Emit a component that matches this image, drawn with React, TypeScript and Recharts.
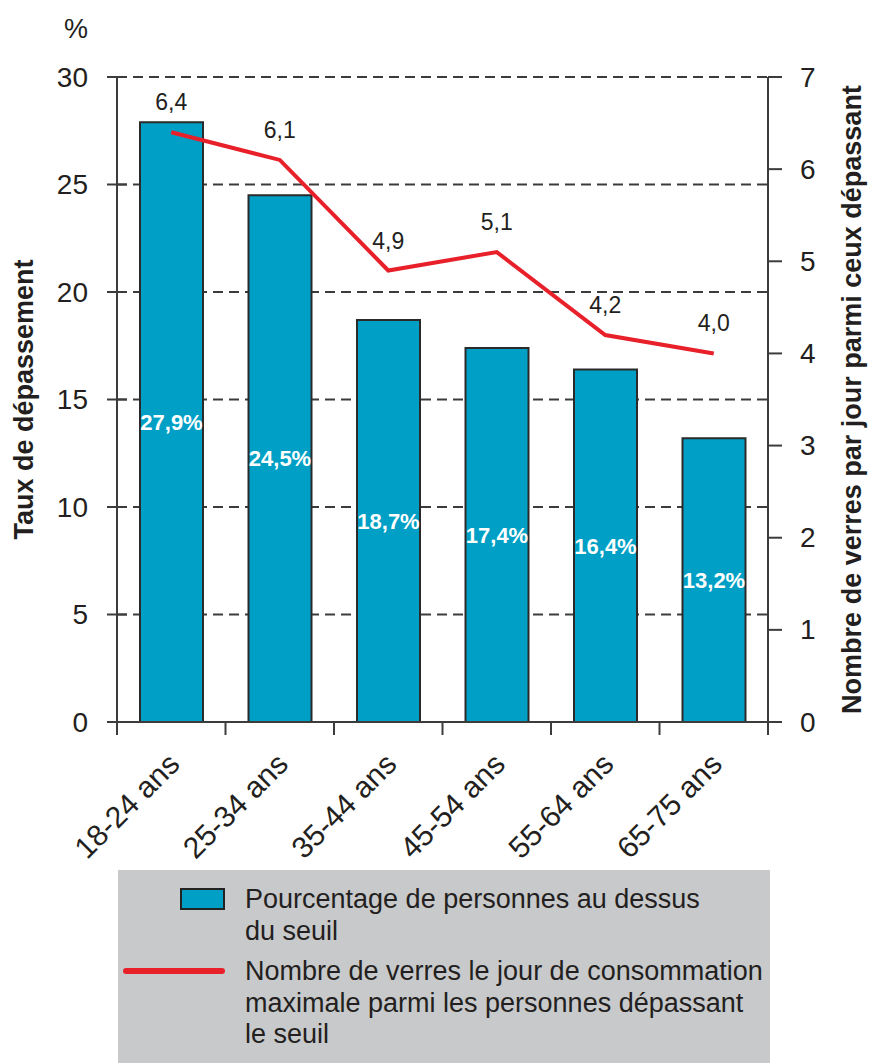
import React from 'react'
import { ComposedChart, Bar, Line, XAxis, YAxis, CartesianGrid, LabelList, Label } from 'recharts'

const categories = ['18-24 ans', '25-34 ans', '35-44 ans', '45-54 ans', '55-64 ans', '65-75 ans']
const tauxDepassement = [27.9, 24.5, 18.7, 17.4, 16.4, 13.2]
const nombreVerres = [6.4, 6.1, 4.9, 5.1, 4.2, 4.0]
const leftTicks = [0, 5, 10, 15, 20, 25, 30]
const rightTicks = [0, 1, 2, 3, 4, 5, 6, 7]

const data = categories.map((age, i) => ({ age, taux: tauxDepassement[i], verres: nombreVerres[i] }))

const FONT = '"Liberation Sans", Arial, sans-serif'
const INK = '#231f20'
const AXIS = '#3c3c3c'
const BLUE = '#009fc5'
const RED = '#e8202a'

const fr = (v: number) => v.toFixed(1).replace('.', ',')

function LeftTick(props: any) {
  const { x, y, payload } = props
  return (
    <g>
      <line x1={x - 10} x2={x + 10} y1={y} y2={y} stroke={AXIS} strokeWidth={2} />
      <text x={x - 29} y={y} textAnchor="end" dominantBaseline="central" fontSize={28} fill={INK}>
        {payload.value}
      </text>
    </g>
  )
}

function RightTick(props: any) {
  const { x, y, payload } = props
  return (
    <g>
      <line x1={x} x2={x + 14} y1={y} y2={y} stroke={AXIS} strokeWidth={2} />
      <text x={x + 32} y={y} textAnchor="start" dominantBaseline="central" fontSize={28} fill={INK}>
        {payload.value}
      </text>
    </g>
  )
}

function AgeTick(props: any) {
  const { x, y, payload, index, visibleTicksCount } = props
  const half = payload.offset || 54
  const last = index === (visibleTicksCount || categories.length) - 1
  const tx = x + 10
  const ty = y + 44
  return (
    <g>
      <line x1={x - half} x2={x - half} y1={y} y2={y + 13} stroke={AXIS} strokeWidth={2} />
      {last && <line x1={x + half} x2={x + half} y1={y} y2={y + 13} stroke={AXIS} strokeWidth={2} />}
      <text x={tx} y={ty} textAnchor="end" fontSize={30} fill={INK} transform={`rotate(-45 ${tx} ${ty})`}>
        {payload.value}
      </text>
    </g>
  )
}

export default function App() {
  return (
    <div style={{ position: 'absolute', left: 0, top: 0, width: 870, height: 1063, background: '#fff', fontFamily: FONT }}>
      <div style={{ position: 'absolute', left: 64, top: 14, fontSize: 27, color: INK }}>%</div>
      <ComposedChart
        width={870}
        height={1063}
        data={data}
        margin={{ top: 77, right: 0, bottom: 0, left: 0 }}
        barSize={63}
        style={{ fontFamily: FONT }}
      >
        <CartesianGrid yAxisId="left" vertical={false} stroke={AXIS} strokeWidth={2} strokeDasharray="10 6" />
        <XAxis
          dataKey="age"
          height={341}
          interval={0}
          tickSize={0}
          tickMargin={0}
          tickLine={false}
          axisLine={{ stroke: AXIS, strokeWidth: 2 }}
          tick={<AgeTick />}
        />
        <YAxis
          yAxisId="left"
          width={117}
          domain={[0, 30]}
          ticks={leftTicks}
          interval={0}
          tickSize={0}
          tickMargin={0}
          tickLine={false}
          axisLine={{ stroke: AXIS, strokeWidth: 2 }}
          tick={<LeftTick />}
        >
          <Label
            value="Taux de dépassement"
            angle={-90}
            position="insideLeft"
            offset={23}
            style={{ fontSize: 27, fontWeight: 'bold', fill: INK, textAnchor: 'middle' }}
          />
        </YAxis>
        <YAxis
          yAxisId="right"
          orientation="right"
          width={102}
          domain={[0, 7]}
          ticks={rightTicks}
          interval={0}
          tickSize={0}
          tickMargin={0}
          tickLine={false}
          axisLine={{ stroke: AXIS, strokeWidth: 2 }}
          tick={<RightTick />}
        >
          <Label
            value="Nombre de verres par jour parmi ceux dépassant"
            angle={-90}
            position="insideRight"
            offset={19}
            style={{ fontSize: 27, fontWeight: 'bold', fill: INK, textAnchor: 'middle' }}
          />
        </YAxis>
        <Bar yAxisId="left" dataKey="taux" fill={BLUE} stroke="#2a2a2a" strokeWidth={2} isAnimationActive={false}>
          <LabelList
            dataKey="taux"
            position="center"
            formatter={(v: any) => `${fr(Number(v))}%`}
            style={{ fill: '#fff', fontSize: 22, fontWeight: 'bold' }}
          />
        </Bar>
        <Line
          yAxisId="right"
          dataKey="verres"
          type="linear"
          stroke={RED}
          strokeWidth={4}
          dot={false}
          isAnimationActive={false}
        >
          <LabelList
            dataKey="verres"
            position="top"
            offset={22}
            formatter={(v: any) => fr(Number(v))}
            style={{ fill: INK, fontSize: 23 }}
          />
        </Line>
      </ComposedChart>
      <div
        style={{
          position: 'absolute',
          left: 118,
          top: 870,
          width: 652,
          height: 193,
          background: '#c8c9cb',
          color: INK,
          fontSize: 27,
          lineHeight: '31.5px',
        }}
      >
        <div
          style={{
            position: 'absolute',
            left: 62,
            top: 18,
            width: 41,
            height: 18,
            background: BLUE,
            border: '2px solid #222',
          }}
        />
        <div style={{ position: 'absolute', left: 5, top: 98, width: 102, height: 6, borderRadius: 3, background: RED }} />
        <div style={{ position: 'absolute', left: 127, top: 14, width: 520, whiteSpace: 'nowrap' }}>
          Pourcentage de personnes au dessus
          <br />
          du seuil
        </div>
        <div style={{ position: 'absolute', left: 127, top: 86, width: 540, whiteSpace: 'nowrap' }}>
          Nombre de verres le jour de consommation
          <br />
          maximale parmi les personnes dépassant
          <br />
          le seuil
        </div>
      </div>
    </div>
  )
}
